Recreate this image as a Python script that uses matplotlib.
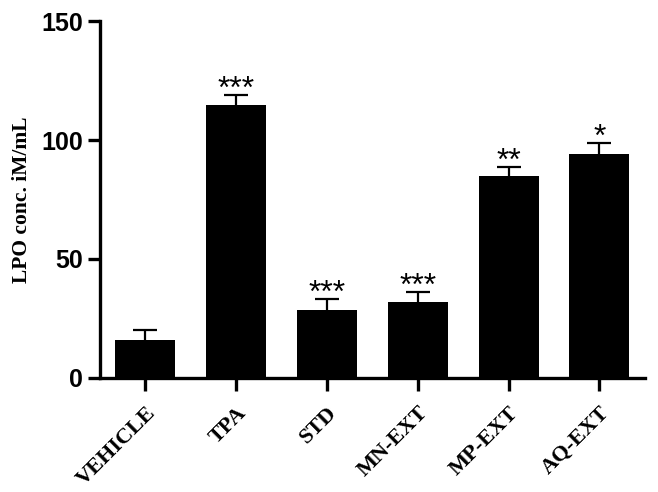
import numpy as np
import matplotlib
matplotlib.use('Agg')
import matplotlib.pyplot as plt

# ── Data ──────────────────────────────────────────────────────────────────────
groups = ['VEHICLE', 'TPA', 'STD', 'MN-EXT', 'MP-EXT', 'AQ-EXT']
means = [15.8, 114.6, 28.4, 31.9, 84.7, 94.0]
errs = [4.5, 4.5, 4.7, 4.2, 4.1, 4.9]
stars = ['', '***', '***', '***', '**', '*']

fig = plt.figure(figsize=(6.58, 4.92), dpi=100)
ax = fig.add_axes([0.152, 0.232, 0.828, 0.725])

x = np.arange(len(groups))
ax.bar(x, means, width=0.66, color='black', zorder=2)
eb = ax.errorbar(x, means, yerr=[np.zeros(len(errs)), errs], fmt='none',
                 ecolor='black', elinewidth=1.6, capsize=8.5, capthick=1.6,
                 zorder=1)
eb[1][0].set_visible(False)   # upper error bars only

for xi, m, e, s in zip(x, means, errs, stars):
    if s:
        ax.annotate(s, (xi, m + e), xytext=(0, -2), textcoords='offset points',
                    ha='center', va='baseline', fontsize=23,
                    family='Liberation Sans')

ax.set_xlim(-0.5, 5.5)
ax.set_ylim(0, 150)
ax.set_yticks([0, 50, 100, 150])
ax.set_xticks(x)
ax.set_xticklabels(groups, rotation=45, ha='right', rotation_mode='anchor',
                   family='Liberation Serif', fontweight='bold', fontsize=16)
for lab in ax.get_yticklabels():
    lab.set_family('Liberation Sans')
    lab.set_fontweight('bold')
    lab.set_fontsize(18)

ax.set_ylabel('LPO conc. iM/mL', family='Liberation Serif', fontweight='bold',
              fontsize=15.5, labelpad=7)

for side in ['top', 'right']:
    ax.spines[side].set_visible(False)
for side in ['left', 'bottom']:
    ax.spines[side].set_linewidth(2.4)
ax.tick_params(axis='both', width=2.4, length=9, color='black')
ax.tick_params(axis='y', pad=3)
ax.tick_params(axis='x', pad=9)

fig.savefig('out.png', dpi=100)
plt.close(fig)
